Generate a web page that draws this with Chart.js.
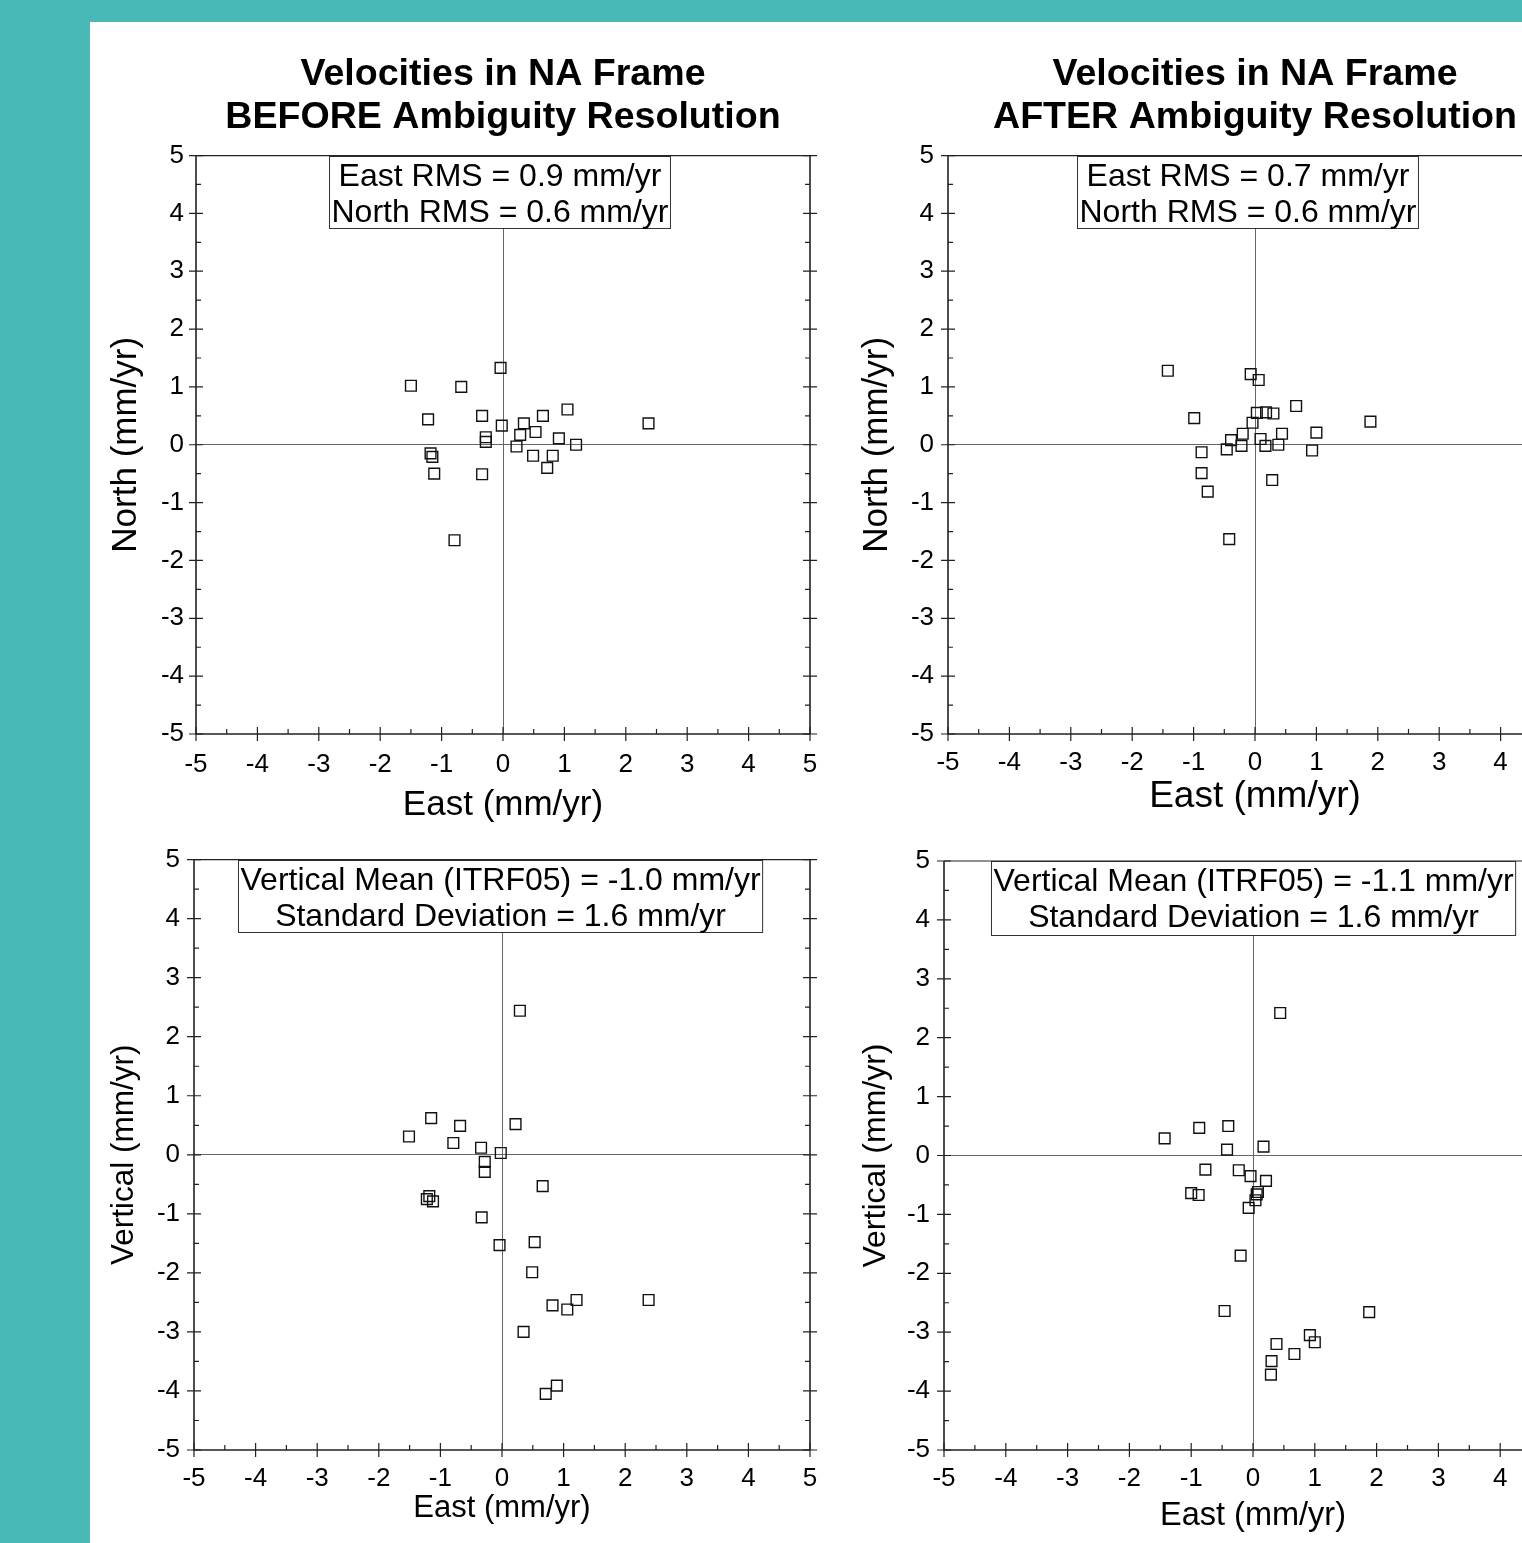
<!DOCTYPE html>
<html>
<head>
<meta charset="utf-8">
<script src="https://cdn.jsdelivr.net/npm/chart.js@4.4.1/dist/chart.umd.min.js"></script>
<style>
  html, body { margin: 0; padding: 0; }
  body { width: 1522px; height: 1543px; overflow: hidden; background: #49b9b8; position: relative; }
  #sheet { position: absolute; left: 90px; top: 22px; width: 1432px; height: 1521px; background: #fff; }
  canvas { position: absolute; }
</style>
</head>
<body>
<div id="sheet"></div>
<canvas id="northBeforeChart" width="760" height="810" style="left:90px;top:22px"></canvas>
<canvas id="northAfterChart" width="760" height="810" style="left:840px;top:22px"></canvas>
<canvas id="vertBeforeChart" width="760" height="713" style="left:90px;top:830px"></canvas>
<canvas id="vertAfterChart" width="760" height="713" style="left:840px;top:830px"></canvas>
<script>
// Velocities (mm/yr), one entry per station

// before ambiguity resolution: east vs north
const eastBeforeH = [-0.04, -1.50, -0.68, -1.22, -0.34, 1.05, 0.65, 2.37, -0.02, 0.34, 0.28, 0.53, -0.28,
  -0.28, 0.91, 1.19, 0.22, -1.18, -1.15, 0.49, 0.81, 0.72, -1.12, -0.34, -0.79];
const northBefore = [1.33, 1.02, 1.00, 0.44, 0.50, 0.61, 0.50, 0.37, 0.33, 0.37, 0.17, 0.22, 0.13,
  0.05, 0.11, 0.00, -0.03, -0.15, -0.21, -0.19, -0.19, -0.40, -0.50, -0.51, -1.65];

// after ambiguity resolution: east vs north
const eastAfterH = [-1.42, -0.07, 0.06, 0.67, -0.99, 0.03, 0.18, 0.30, -0.04, -0.20, -0.39, 0.44, 1.00,
  1.88, 0.09, -0.22, 0.17, 0.38, -0.46, 0.93, -0.87, -0.87, 0.28, -0.77, -0.42];
const northAfter = [1.28, 1.22, 1.12, 0.67, 0.46, 0.55, 0.56, 0.54, 0.38, 0.19, 0.08, 0.19, 0.21,
  0.40, 0.10, -0.02, -0.02, 0.00, -0.08, -0.10, -0.13, -0.49, -0.61, -0.81, -1.63];

// before ambiguity resolution: east vs vertical
const eastBeforeV = [0.29, -1.15, -0.68, -1.51, -0.79, 0.22, -0.34, -0.02, -0.28, -0.28, 0.66, -1.18, -1.22,
  -1.12, -0.33, -0.04, 0.53, 0.49, 0.82, 1.06, 1.21, 2.38, 0.35, 0.89, 0.71];
const vertBefore = [2.44, 0.62, 0.49, 0.31, 0.20, 0.52, 0.12, 0.03, -0.12, -0.29, -0.53, -0.70, -0.75,
  -0.79, -1.06, -1.53, -1.48, -1.99, -2.55, -2.62, -2.46, -2.46, -3.00, -3.91, -4.05];

// after ambiguity resolution: east vs vertical
const eastAfterV = [0.44, -1.43, -0.87, -0.40, -0.42, 0.17, -0.77, -0.23, -0.04, 0.21, -1.00, -0.88, 0.08,
  0.06, 0.04, -0.07, -0.20, -0.46, 1.88, 0.92, 1.00, 0.38, 0.67, 0.30, 0.29];
const vertAfter = [2.42, 0.29, 0.47, 0.50, 0.10, 0.15, -0.24, -0.25, -0.35, -0.43, -0.64, -0.67, -0.62,
  -0.66, -0.76, -0.89, -1.70, -2.64, -2.66, -3.05, -3.17, -3.20, -3.37, -3.49, -3.72];

const axisMin = -5;
const axisMax = 5;

const FONT = '"Liberation Sans", Arial, Helvetica, sans-serif';
Chart.defaults.font.family = FONT;
Chart.defaults.color = '#000';

// frame with ticks (left, right, bottom) + the white stats box at the top
const framePlugin = {
  id: 'frame',
  beforeDatasetsDraw(chart, args, opts) {
    const { ctx, chartArea, scales } = chart;
    ctx.save();
    ctx.font = '32px ' + FONT;
    const w = Math.max(...opts.lines.map(t => ctx.measureText(t).width)) + 4;
    const cx = scales.x.getPixelForValue(opts.centerX);
    const left = Math.round(cx - w / 2) + 0.5;
    const top = Math.round(chartArea.top) + 0.5;
    ctx.fillStyle = '#fff';
    ctx.fillRect(left, top, w, opts.height);
    ctx.strokeStyle = '#333';
    ctx.lineWidth = 1;
    ctx.strokeRect(left, top, w, opts.height);
    ctx.fillStyle = '#000';
    ctx.textAlign = 'center';
    ctx.textBaseline = 'alphabetic';
    opts.lines.forEach((t, i) => ctx.fillText(t, left + w / 2, chartArea.top + 30 + i * 36));
    ctx.restore();
  },
  afterDatasetsDraw(chart) {
    const { ctx, chartArea: a, scales: { x, y } } = chart;
    ctx.save();
    ctx.strokeStyle = '#222';
    ctx.lineWidth = 1.2;
    ctx.beginPath();
    ctx.moveTo(a.left, a.top); ctx.lineTo(a.right, a.top);
    ctx.stroke();
    ctx.lineWidth = 1.6;
    ctx.beginPath();
    ctx.moveTo(a.left, a.top); ctx.lineTo(a.left, a.bottom); ctx.lineTo(a.right, a.bottom);
    ctx.moveTo(a.right, a.top); ctx.lineTo(a.right, a.bottom);
    ctx.stroke();
    ctx.lineWidth = 1.2;
    ctx.beginPath();
    for (let v = axisMin; v <= axisMax; v += 0.5) {
      const major = Number.isInteger(v);
      const px = x.getPixelForValue(v);
      const py = y.getPixelForValue(v);
      if (major) {
        ctx.moveTo(px, a.bottom - 7); ctx.lineTo(px, a.bottom + 7);
        ctx.moveTo(a.left - 7, py); ctx.lineTo(a.left + 7, py);
        ctx.moveTo(a.right - 7, py); ctx.lineTo(a.right + 7, py);
      } else {
        ctx.moveTo(px, a.bottom - 5); ctx.lineTo(px, a.bottom);
        ctx.moveTo(a.left, py); ctx.lineTo(a.left + 5, py);
        ctx.moveTo(a.right - 5, py); ctx.lineTo(a.right, py);
      }
    }
    ctx.stroke();
    ctx.restore();
  }
};

const zeroLine = ctx => (ctx.tick && ctx.tick.value === 0 ? '#666' : 'rgba(0,0,0,0)');

function makePanel(id, p) {
  const points = p.east.map((e, i) => ({ x: e, y: p.vals[i] }));
  return new Chart(document.getElementById(id), {
    type: 'scatter',
    data: {
      datasets: [{
        data: points,
        pointStyle: 'rect',
        pointRadius: 7.6,
        pointHoverRadius: 7.6,
        borderColor: '#111',
        borderWidth: 1.4,
        backgroundColor: 'rgba(0,0,0,0)',
      }],
    },
    options: {
      responsive: false,
      animation: false,
      events: [],
      layout: { autoPadding: false, padding: p.pad },
      plugins: {
        legend: { display: false },
        tooltip: { enabled: false },
        title: {
          display: !!p.title,
          text: p.title || '',
          fullSize: false,
          color: '#000',
          font: { size: 37.6, weight: 'bold', lineHeight: 1.14 },
          padding: { top: 31, bottom: 16.8 },
        },
        frame: { lines: p.box, centerX: p.boxX, height: p.boxH },
      },
      scales: {
        x: {
          type: 'linear', position: 'bottom', min: axisMin, max: axisMax,
          ticks: { stepSize: 1, padding: p.xTickPad, font: { size: 26 }, color: '#000' },
          grid: { drawTicks: false, color: zeroLine, lineWidth: 1 },
          border: { display: false },
          title: { display: true, text: 'East (mm/yr)', color: '#000', padding: 0,
            font: { size: p.xTitleSize, lineHeight: 1.2 } },
          afterFit: s => { s.height = p.xH; },
        },
        y: {
          type: 'linear', position: 'left', min: axisMin, max: axisMax,
          ticks: { stepSize: 1, padding: p.yTickPad, font: { size: 26 }, color: '#000' },
          grid: { drawTicks: false, color: zeroLine, lineWidth: 1 },
          border: { display: false },
          title: { display: true, text: p.yTitle, color: '#000', padding: 0,
            font: { size: p.yTitleSize, lineHeight: 1.2 } },
          afterFit: s => { s.width = p.yW; },
        },
      },
    },
    plugins: [framePlugin],
  });
}

makePanel('northBeforeChart', {
  east: eastBeforeH, vals: northBefore,
  title: ['Velocities in NA Frame', 'BEFORE Ambiguity Resolution'],
  box: ['East RMS = 0.9 mm/yr', 'North RMS = 0.6 mm/yr'], boxX: -0.05, boxH: 72,
  pad: { left: 15, right: 40, top: 0, bottom: 6 },
  yTitle: 'North (mm/yr)', yTitleSize: 35, yW: 91, yTickPad: 12,
  xTitleSize: 35, xH: 92, xTickPad: 15,
});

makePanel('northAfterChart', {
  east: eastAfterH, vals: northAfter,
  title: ['Velocities in NA Frame', 'AFTER Ambiguity Resolution'],
  box: ['East RMS = 0.7 mm/yr', 'North RMS = 0.6 mm/yr'], boxX: -0.12, boxH: 72,
  pad: { left: 16, right: 38, top: 0, bottom: 13 },
  yTitle: 'North (mm/yr)', yTitleSize: 35, yW: 92, yTickPad: 14,
  xTitleSize: 37, xH: 85, xTickPad: 13,
});

makePanel('vertBeforeChart', {
  east: eastBeforeV, vals: vertBefore,
  box: ['Vertical Mean (ITRF05) = -1.0 mm/yr', 'Standard Deviation = 1.6 mm/yr'], boxX: -0.03, boxH: 72,
  pad: { left: 15, right: 40, top: 28, bottom: 16 },
  yTitle: 'Vertical (mm/yr)', yTitleSize: 31.5, yW: 89, yTickPad: 14,
  xTitleSize: 31, xH: 77, xTickPad: 13,
});

makePanel('vertAfterChart', {
  east: eastAfterV, vals: vertAfter,
  box: ['Vertical Mean (ITRF05) = -1.1 mm/yr', 'Standard Deviation = 1.6 mm/yr'], boxX: 0.0, boxH: 74,
  pad: { left: 17, right: 38, top: 31, bottom: 7 },
  yTitle: 'Vertical (mm/yr)', yTitleSize: 32, yW: 87, yTickPad: 14,
  xTitleSize: 32.5, xH: 86, xTickPad: 13,
});
</script>
</body>
</html>
